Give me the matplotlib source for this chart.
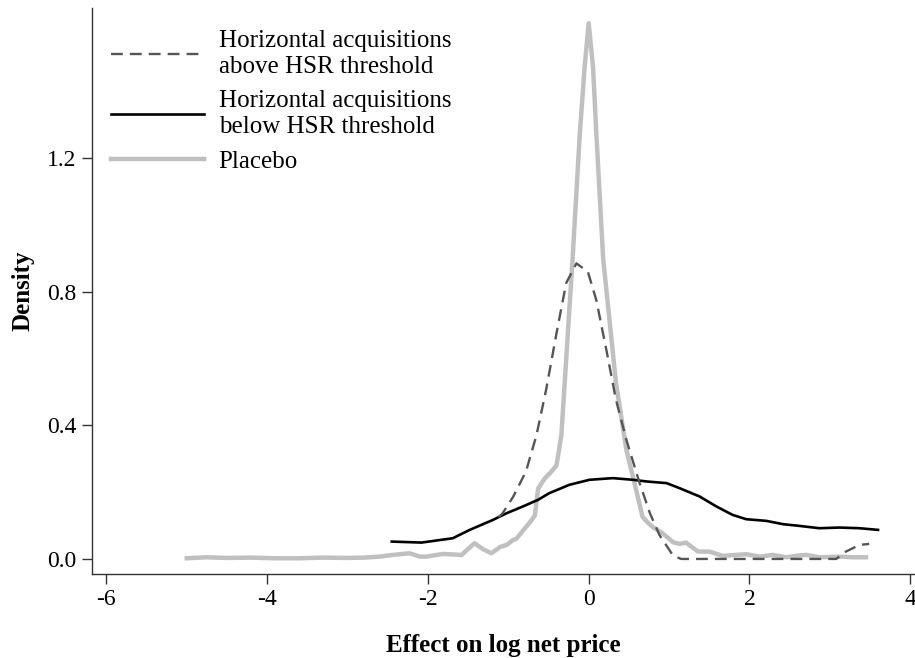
import matplotlib
matplotlib.use('Agg')
import matplotlib.pyplot as plt

# density curves
placebo_x = [-5.0, -4.76, -4.5, -4.2, -3.9, -3.6, -3.3, -3.0, -2.8, -2.6, -2.44, -2.23,
             -2.1, -2.02, -1.81, -1.58, -1.5, -1.42, -1.32, -1.21, -1.1, -1.02, -0.94,
             -0.9, -0.8, -0.73, -0.67, -0.63, -0.55, -0.47, -0.40, -0.34, -0.2, -0.11,
             -0.05, 0.0, 0.054, 0.095, 0.18, 0.34, 0.47, 0.53, 0.59, 0.67, 0.73, 0.8,
             0.92, 1.05, 1.13, 1.21, 1.36, 1.5, 1.67, 1.82, 1.96, 2.13, 2.29, 2.46, 2.6,
             2.71, 2.87, 3.0, 3.12, 3.29, 3.45]
placebo_y = [0.002, 0.005, 0.003, 0.004, 0.002, 0.002, 0.004, 0.003, 0.004, 0.007, 0.012,
             0.017, 0.007, 0.007, 0.015, 0.012, 0.03, 0.047, 0.03, 0.017, 0.036, 0.042,
             0.057, 0.06, 0.09, 0.11, 0.13, 0.21, 0.24, 0.26, 0.28, 0.37, 0.9, 1.275,
             1.474, 1.604, 1.474, 1.275, 0.9, 0.526, 0.326, 0.266, 0.207, 0.126, 0.11,
             0.095, 0.077, 0.05, 0.045, 0.049, 0.022, 0.022, 0.009, 0.012, 0.014, 0.007,
             0.012, 0.005, 0.01, 0.012, 0.005, 0.006, 0.007, 0.005, 0.005]

above_x = [-1.12, -1.07, -0.94, -0.78, -0.65, -0.53, -0.40, -0.28, -0.153, -0.01, 0.095,
           0.22, 0.34, 0.47, 0.63, 0.76, 0.88, 1.05, 1.15, 1.5, 2.0, 2.5, 3.08, 3.2,
           3.37, 3.49]
above_y = [0.125, 0.137, 0.186, 0.262, 0.37, 0.506, 0.676, 0.826, 0.885, 0.86, 0.775,
           0.626, 0.476, 0.356, 0.23, 0.138, 0.072, 0.01, 0.0, 0.0, 0.0, 0.0, 0.0, 0.022,
           0.042, 0.045]

below_x = [-2.45, -2.08, -1.69, -1.48, -1.19, -1.02, -0.82, -0.63, -0.49, -0.24, 0.01,
           0.30, 0.55, 0.72, 0.97, 1.13, 1.38, 1.59, 1.79, 1.96, 2.21, 2.42, 2.62, 2.87,
           3.12, 3.37, 3.6]
below_y = [0.052, 0.049, 0.062, 0.087, 0.117, 0.137, 0.157, 0.177, 0.197, 0.222, 0.237,
           0.242, 0.237, 0.232, 0.227, 0.212, 0.187, 0.157, 0.132, 0.119, 0.114, 0.104,
           0.099, 0.092, 0.094, 0.092, 0.087]

labels = ['Horizontal acquisitions\nabove HSR threshold',
          'Horizontal acquisitions\nbelow HSR threshold',
          'Placebo']
xticks = [-6, -4, -2, 0, 2, 4]
yticks = [0.0, 0.4, 0.8, 1.2]

plt.rcParams['font.family'] = ['Liberation Serif', 'DejaVu Serif']
plt.rcParams['axes.unicode_minus'] = False

fig = plt.figure(figsize=(9.15, 6.58), dpi=100)
ax = fig.add_axes([0.1005, 0.1277, 0.8995, 0.8603])

l3, = ax.plot(placebo_x, placebo_y, color='#c0c0c0', lw=3.2, solid_joinstyle='round')
l2, = ax.plot(below_x, below_y, color='black', lw=1.9)
l1, = ax.plot(above_x, above_y, color='#555555', lw=1.7, dashes=(5, 3))

ax.set_xlim(-6.18, 4.06)
ax.set_ylim(-0.045, 1.65)
ax.set_xticks(xticks)
ax.set_xticklabels([str(t) for t in xticks])
ax.set_yticks(yticks)
ax.set_yticklabels(['%.1f' % t for t in yticks])

for s in ['top', 'right']:
    ax.spines[s].set_visible(False)
for s in ['left', 'bottom']:
    ax.spines[s].set_color('#333333')
    ax.spines[s].set_linewidth(1.0)
ax.tick_params(direction='out', length=7, width=1.0, color='#333333',
               labelsize=17, pad=4)

ax.set_xlabel('Effect on log net price', fontsize=18, fontweight='bold', labelpad=17)
ax.set_ylabel('Density', fontsize=18, fontweight='bold', labelpad=9)

leg = ax.legend([l1, l2, l3], labels, loc='upper left', frameon=False, fontsize=18,
                handlelength=3.7, handletextpad=0.6, labelspacing=0.5,
                bbox_to_anchor=(-0.004, 1.0))
for t in leg.get_texts():
    t.set_linespacing(1.2)

fig.savefig('out.png', dpi=100)
